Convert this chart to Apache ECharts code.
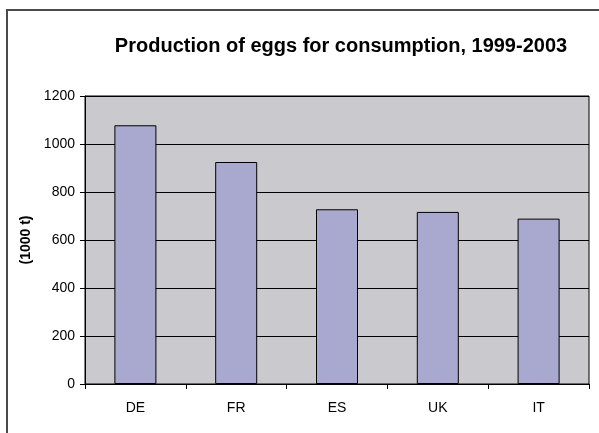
<!DOCTYPE html>
<html>
<head>
<meta charset="utf-8">
<script src="https://cdn.jsdelivr.net/npm/echarts@6/dist/echarts.min.js"></script>
<style>
html,body{margin:0;padding:0;background:#fff;}
#chart{width:599px;height:433px;}
</style>
</head>
<body>
<div id="chart"></div>
<script>
const titleText = 'Production of eggs for consumption, 1999-2003';
const categories = ['DE', 'FR', 'ES', 'UK', 'IT'];
const values = [1078, 925, 728, 717, 689];
const yAxisName = '(1000 t)';

const chart = echarts.init(document.getElementById('chart'), null, {renderer: 'canvas'});
const font = '"Liberation Sans", Arial, sans-serif';
chart.setOption({
  animation: false,
  backgroundColor: '#ffffff',
  title: {
    text: titleText,
    left: 336,
    top: 31,
    textAlign: 'center',
    textStyle: {fontFamily: font, fontSize: 20, fontWeight: 'bold', color: '#000'}
  },
  graphic: [{
    type: 'rect',
    shape: {x: 7, y: 10, width: 700, height: 500},
    style: {fill: 'none', stroke: '#4a4a4a', lineWidth: 2},
    silent: true
  }],
  grid: {
    left: 85, right: 10, top: 96, bottom: 49,
    show: true, backgroundColor: '#C9C9CE', borderColor: '#000', borderWidth: 1,
    containLabel: false
  },
  xAxis: {
    type: 'category',
    data: categories,
    boundaryGap: true,
    axisLine: {show: true, lineStyle: {color: '#000', width: 1}},
    axisTick: {show: true, length: 5, alignWithLabel: false, lineStyle: {color: '#000'}},
    axisLabel: {fontFamily: font, fontSize: 14, color: '#000', margin: 17},
    splitLine: {show: false}
  },
  yAxis: {
    type: 'value',
    min: 0, max: 1200, interval: 200,
    name: yAxisName,
    nameLocation: 'middle',
    nameRotate: 90,
    nameGap: 33,
    nameTextStyle: {fontFamily: font, fontSize: 14, fontWeight: 'bold', color: '#000'},
    axisLine: {show: true, lineStyle: {color: '#000', width: 1}},
    axisTick: {show: true, length: 5, lineStyle: {color: '#000'}},
    axisLabel: {fontFamily: font, fontSize: 14, color: '#000', margin: 10, formatter: function (v) { return String(v); }},
    splitLine: {show: true, lineStyle: {color: '#000', width: 1}}
  },
  series: [{
    type: 'bar',
    data: values,
    barWidth: 42,
    itemStyle: {color: '#A9A9D0', borderColor: '#000', borderWidth: 1}
  }]
});
</script>
</body>
</html>
